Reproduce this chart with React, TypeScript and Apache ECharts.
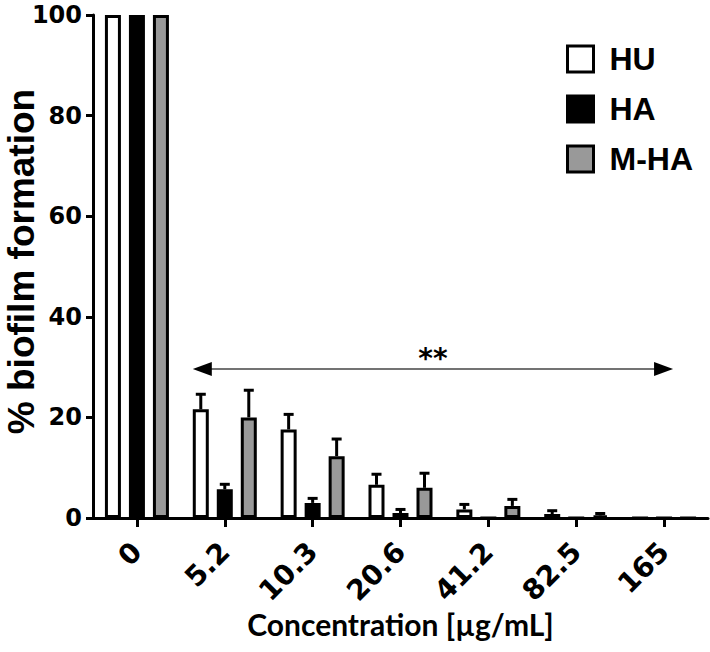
import React, { useEffect, useRef } from 'react';
import * as echarts from 'echarts';

const categories = ['0', '5.2', '10.3', '20.6', '41.2', '82.5', '165'];
const seriesNames = ['HU', 'HA', 'M-HA'];
const huValues = [100, 21.6, 17.6, 6.6, 1.7, 0.8, 0];
const huErrors = [0, 3.0, 3.0, 2.1, 1.0, 0.65, 0];
const haValues = [100, 5.7, 3.0, 1.0, 0, 0, 0];
const haErrors = [0, 1.0, 0.9, 0.7, 0, 0, 0];
const mhaValues = [100, 20.0, 12.3, 6.0, 2.4, 0.5, 0];
const mhaErrors = [0, 5.4, 3.4, 2.9, 1.3, 0.4, 0];
const yMin = 0;
const yMax = 100;
const yInterval = 20;
const significanceText = '**';
const arrowLevel = 29.6;
const arrowFrom = '5.2';
const arrowTo = '165';

const fills = ['#ffffff', '#000000', '#999999'];
const BAR_W = 16;
const BAR_STEP = 24;

const tickFont = { fontFamily: 'DejaVu Sans', fontWeight: 'bold' as const, fontSize: 24, color: '#000' };

function errorSeries(name: string, values: number[], errors: number[], offsetIndex: number) {
  const data = values.map((v, i) => [i, v, errors[i]]);
  return {
    type: 'custom',
    name,
    z: 1,
    silent: true,
    encode: { x: 0, y: 1 },
    data,
    renderItem: (params: any, api: any) => {
      const idx = api.value(0);
      const val = api.value(1);
      const err = api.value(2);
      if (!err) return null;
      const base = api.coord([idx, val]);
      const top = api.coord([idx, val + err]);
      const x = base[0] + offsetIndex * BAR_STEP;
      return {
        type: 'group',
        children: [
          { type: 'line', shape: { x1: x, y1: base[1], x2: x, y2: top[1] }, style: { stroke: '#000', lineWidth: 3 } },
          { type: 'line', shape: { x1: x - 5, y1: top[1], x2: x + 5, y2: top[1] }, style: { stroke: '#000', lineWidth: 3 } },
        ],
      };
    },
  };
}

export default function App() {
  const ref = useRef<HTMLDivElement>(null);
  useEffect(() => {
    if (!ref.current) return;
    const chart = echarts.init(ref.current, null, { renderer: 'svg' });
    const valueSets = [huValues, haValues, mhaValues];
    const errorSets = [huErrors, haErrors, mhaErrors];
    const barSeries = seriesNames.map((n, k) => ({
      type: 'bar',
      name: n,
      data: valueSets[k],
      barWidth: BAR_W,
      barGap: '50%',
      z: 2,
      itemStyle: { color: fills[k], borderColor: '#000', borderWidth: 3 },
    }));
    const errSeries = seriesNames.map((n, k) => errorSeries(n + ' error', valueSets[k], errorSets[k], k - 1));
    chart.setOption({
      animation: false,
      grid: { left: 93, right: 2, top: 15, bottom: 134, containLabel: false, outerBoundsMode: 'none' },
      legend: {
        orient: 'vertical',
        left: 561,
        top: 38,
        itemWidth: 26,
        itemHeight: 26,
        itemGap: 18,
        icon: 'rect',
        selectedMode: false,
        textStyle: { fontFamily: 'Liberation Sans', fontWeight: 'bold', fontSize: 32, color: '#000', lineHeight: 26, padding: [0, 0, 0, 11] },
        data: seriesNames.map((n, k) => ({ name: n, itemStyle: { color: fills[k], borderColor: '#000', borderWidth: 3 } })),
      },
      xAxis: {
        type: 'category',
        data: categories,
        axisLine: { show: true, lineStyle: { color: '#000', width: 3 } },
        axisTick: { show: true, alignWithLabel: true, length: 9, lineStyle: { color: '#000', width: 3 } },
        axisLabel: { ...tickFont, fontSize: 28, rotate: 45, margin: 29, interval: 0 },
        name: 'Concentration [µg/mL]',
        nameLocation: 'middle',
        nameGap: 91,
        nameMoveOverlap: false,
        nameTextStyle: { fontFamily: 'Lato', fontWeight: 'bold', fontSize: 30, color: '#000' },
      },
      yAxis: {
        type: 'value',
        min: yMin,
        max: yMax,
        interval: yInterval,
        axisLine: { show: true, lineStyle: { color: '#000', width: 3 } },
        axisTick: { show: true, length: 7, lineStyle: { color: '#000', width: 3 } },
        splitLine: { show: false },
        axisLabel: { ...tickFont, margin: 11 },
        name: '% biofilm formation',
        nameLocation: 'middle',
        nameRotate: 90,
        nameGap: 57,
        nameMoveOverlap: false,
        nameTextStyle: { fontFamily: 'Liberation Sans', fontWeight: 'bold', fontSize: 37, lineHeight: 30, color: '#000', padding: [0, 0, 0, 10] },
      },
      series: [...errSeries, ...barSeries],
    });

    const xL = (chart.convertToPixel({ xAxisIndex: 0 }, arrowFrom) as number) - 32;
    const xR = (chart.convertToPixel({ xAxisIndex: 0 }, arrowTo) as number) + 9;
    const yA = chart.convertToPixel({ yAxisIndex: 0 }, arrowLevel) as number;
    const headL = 19;
    const headH = 7;
    chart.setOption({
      graphic: [
        { type: 'line', z: 10, shape: { x1: xL + headL - 2, y1: yA, x2: xR - headL + 2, y2: yA }, style: { stroke: '#444', lineWidth: 1.5 } },
        { type: 'polygon', z: 10, shape: { points: [[xL, yA], [xL + headL, yA - headH], [xL + headL, yA + headH]] }, style: { fill: '#000' } },
        { type: 'polygon', z: 10, shape: { points: [[xR, yA], [xR - headL, yA - headH], [xR - headL, yA + headH]] }, style: { fill: '#000' } },
        {
          type: 'text', z: 10, x: (xL + xR) / 2, y: yA - 11,
          style: { text: significanceText, fontFamily: 'DejaVu Sans', fontWeight: 'bold', fontSize: 28, fill: '#000', align: 'center', verticalAlign: 'middle' },
        },
      ],
    });
    return () => chart.dispose();
  }, []);
  return <div ref={ref} style={{ position: 'absolute', left: 0, top: 0, width: 710, height: 652 }} />;
}
